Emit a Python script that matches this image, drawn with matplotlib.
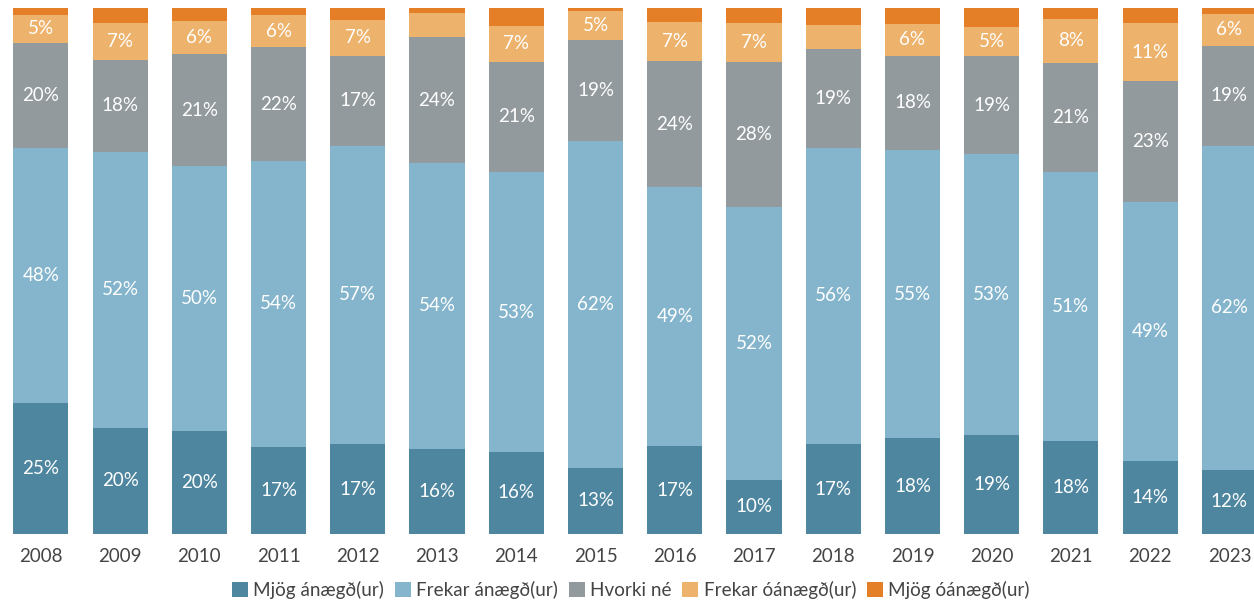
import matplotlib
matplotlib.use("Agg")
import matplotlib.pyplot as plt
import numpy as np

years = ["2008", "2009", "2010", "2011", "2012", "2013", "2014", "2015",
         "2016", "2017", "2018", "2019", "2020", "2021", "2022", "2023"]
mjog_anaegd = [24.9, 20.2, 19.6, 16.6, 17.1, 16.2, 15.6, 12.6, 16.7, 10.3, 17.1, 18.2, 18.8, 17.7, 13.9, 12.2]
frekar_anaegd = [48.4, 52.4, 50.4, 54.3, 56.7, 54.4, 53.2, 62.2, 49.2, 51.9, 56.3, 54.8, 53.4, 51.1, 49.2, 61.6]
hvorki_ne = [20.1, 17.6, 21.2, 21.6, 17.1, 23.8, 21.0, 19.2, 24.0, 27.6, 18.8, 17.9, 18.7, 20.8, 23.0, 19.0]
frekar_oanaegd = [5.3, 7.0, 6.4, 6.1, 6.9, 4.7, 6.8, 5.4, 7.4, 7.3, 4.6, 6.1, 5.4, 8.4, 11.0, 6.1]
mjog_oanaegd = [1.3, 2.8, 2.4, 1.4, 2.2, 0.9, 3.4, 0.6, 2.7, 2.9, 3.2, 3.0, 3.7, 2.0, 2.9, 1.1]

series_names = ["Mjög ánægð(ur)", "Frekar ánægð(ur)", "Hvorki né", "Frekar óánægð(ur)", "Mjög óánægð(ur)"]
series = [mjog_anaegd, frekar_anaegd, hvorki_ne, frekar_oanaegd, mjog_oanaegd]
colors = ["#4E86A0", "#84B5CC", "#939A9D", "#EDB26B", "#E57F27"]
show_labels = [True, True, True, True, False]

plt.rcParams['font.family'] = ['Lato', 'DejaVu Sans']

fig = plt.figure(figsize=(12.54, 6.04), dpi=100)
ax = fig.add_axes([0.0, 70 / 604, 1.0, 526 / 604])

x = np.arange(len(years))
bottom = np.zeros(len(years))
handles = []
for vals, col, name, lab in zip(series, colors, series_names, show_labels):
    v = np.array(vals)
    bars = ax.bar(x, v, bottom=bottom, width=0.695, color=col, label=name, linewidth=0)
    handles.append(bars)
    if lab:
        for xi, b, vi in zip(x, bottom, v):
            if vi >= 5:
                ax.text(xi, b + vi / 2, f"{vi:.0f}%", ha="center", va="center",
                        color="white", fontsize=13.5)
    bottom += v

ax.set_xlim(-0.515, 15.31)
ax.set_ylim(0, 100)
ax.set_xticks(x)
ax.set_xticklabels(years, fontsize=13.5, color="#444444")
ax.tick_params(axis="x", length=0, pad=10)
ax.set_yticks([])
for s in ax.spines.values():
    s.set_visible(False)

fig.legend(handles=handles, labels=series_names, loc="center", bbox_to_anchor=(0.503, 0.023),
           ncol=5, frameon=False, fontsize=13.6, handlelength=0.85, handleheight=0.9,
           handletextpad=0.3, columnspacing=0.55, labelcolor="#444444")

fig.savefig("out.png", dpi=100)
